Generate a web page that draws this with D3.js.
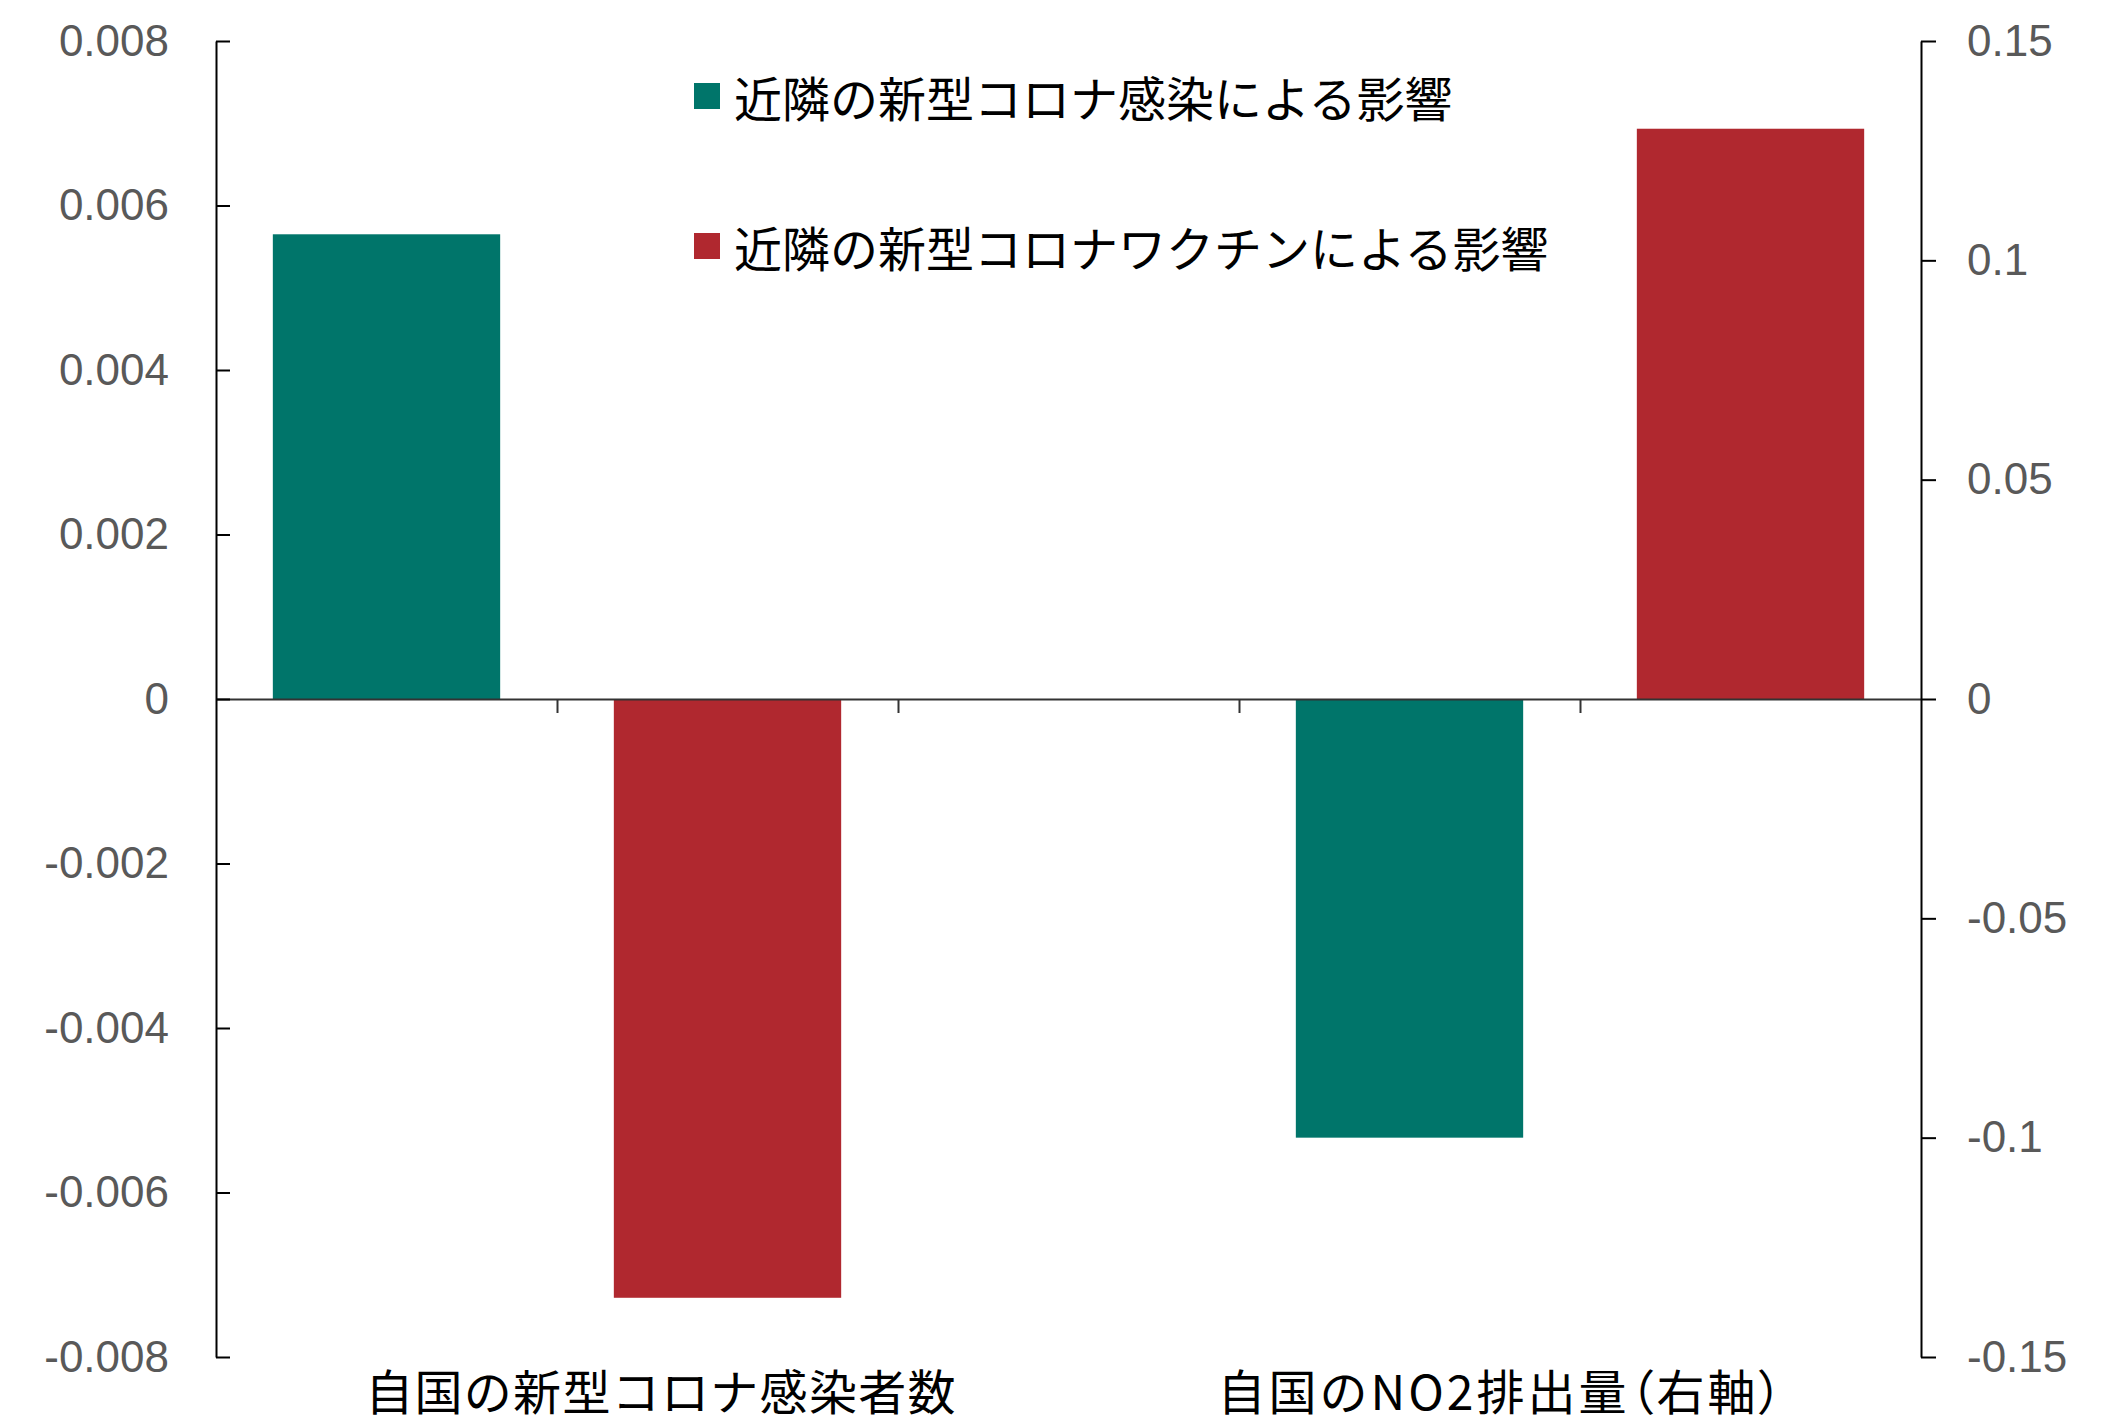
<!DOCTYPE html>
<html><head><meta charset="utf-8">
<script src="https://cdn.jsdelivr.net/npm/d3@7/dist/d3.min.js"></script>
<style>
body{margin:0;background:#fff}
.jp{font-family:"Noto Sans CJK JP","Noto Sans CJK SC",sans-serif;}
.num{font-family:"Liberation Sans",Arial,sans-serif;}
</style>
</head><body><svg id="c" width="2120" height="1421"></svg>
<script>
// ---- data ----
const groups = ["自国の新型コロナ感染者数", "自国のNO2排出量（右軸）"];
const groupAxis = ["left", "right"];
const seriesNames = ["近隣の新型コロナ感染による影響", "近隣の新型コロナワクチンによる影響"];
const seriesColors = ["#00756a", "#b0282f"];
const infectionEffect = [0.00565, -0.100];
const vaccineEffect = [-0.00728, 0.130];
const leftTicks = [-0.008, -0.006, -0.004, -0.002, 0, 0.002, 0.004, 0.006, 0.008];
const leftTickLabels = ["-0.008", "-0.006", "-0.004", "-0.002", "0", "0.002", "0.004", "0.006", "0.008"];
const rightTicks = [-0.15, -0.1, -0.05, 0, 0.05, 0.1, 0.15];
const rightTickLabels = ["-0.15", "-0.1", "-0.05", "0", "0.05", "0.1", "0.15"];
const slots = ["g0-s0", "g0-s1", "gap", "g1-s0", "g1-s1"];

// ---- layout ----
const L = 216, R = 1921, T = 41, B = 1357;
const svg = d3.select("#c");
const yL = d3.scaleLinear().domain([-0.008, 0.008]).range([B, T]);
const yR = d3.scaleLinear().domain([-0.15, 0.15]).range([B, T]);
const x = d3.scaleBand().domain(slots).range([L, R]).paddingInner(1/3).paddingOuter(1/6);
const xi = d3.scaleLinear().domain([0, slots.length]).range([L, R]);

const seriesValues = [infectionEffect, vaccineEffect];
const bars = [];
groups.forEach((g, gi) => {
  seriesValues.forEach((vals, si) => {
    bars.push({slot: slots[gi * 3 + si], v: vals[gi], color: seriesColors[si], y: groupAxis[gi] === "left" ? yL : yR});
  });
});

svg.append("g").selectAll("rect").data(bars).join("rect")
  .attr("x", d => x(d.slot))
  .attr("width", x.bandwidth())
  .attr("y", d => Math.min(d.y(d.v), d.y(0)))
  .attr("height", d => Math.abs(d.y(d.v) - d.y(0)))
  .attr("fill", d => d.color);

// x axis (zero line with slot-boundary ticks)
const gx = svg.append("g").attr("transform", `translate(0,${yL(0)})`)
  .call(d3.axisBottom(xi).tickValues(d3.range(1, slots.length)).tickFormat("").tickSizeInner(14).tickSizeOuter(0));
gx.selectAll("path,line").attr("stroke", "#333").attr("stroke-width", 2);

// left axis
const gl = svg.append("g").attr("transform", `translate(${L},0)`)
  .call(d3.axisLeft(yL).tickValues(leftTicks).tickFormat(d => leftTickLabels[leftTicks.indexOf(d)])
    .tickSizeInner(-14).tickSizeOuter(0).tickPadding(47));
gl.selectAll("path,line").attr("stroke", "#000").attr("stroke-width", 2);
gl.selectAll("text").attr("class", "num").attr("font-size", 44).attr("fill", "#595959");

// right axis
const gr = svg.append("g").attr("transform", `translate(${R},0)`)
  .call(d3.axisRight(yR).tickValues(rightTicks).tickFormat(d => rightTickLabels[rightTicks.indexOf(d)])
    .tickSizeInner(15).tickSizeOuter(0).tickPadding(31));
gr.selectAll("path,line").attr("stroke", "#000").attr("stroke-width", 2);
gr.selectAll("text").attr("class", "num").attr("font-size", 44).attr("fill", "#595959");
svg.selectAll(".domain").attr("fill", "none");

// legend
const legendY = [96, 246];
const lg = svg.append("g");
seriesNames.forEach((n, i) => {
  lg.append("rect").attr("x", 694).attr("y", legendY[i] - 13).attr("width", 26).attr("height", 26).attr("fill", seriesColors[i]);
  lg.append("text").attr("class", "jp").attr("x", 734).attr("y", legendY[i]).attr("dominant-baseline", "central")
    .attr("font-size", 48).attr("fill", "#000").text(n);
});

// category labels (parentheses set proportionally, as in the reference)
const labelPos = [1.305, 3.77];
const labelSpacing = [1.3, 3];
groups.forEach((g, i) => {
  const t = svg.append("text").attr("class", "jp").attr("x", xi(labelPos[i])).attr("y", 1389)
    .attr("text-anchor", "middle").attr("dominant-baseline", "central")
    .attr("letter-spacing", labelSpacing[i])
    .attr("font-size", 48).attr("fill", "#000");
  const parts = g.split(/([（）])/).filter(p => p.length);
  parts.forEach(p => {
    t.append("tspan").style("font-feature-settings", (p === "（" || p === "）") ? "'palt'" : "normal").text(p);
  });
});
</script>
</body></html>
